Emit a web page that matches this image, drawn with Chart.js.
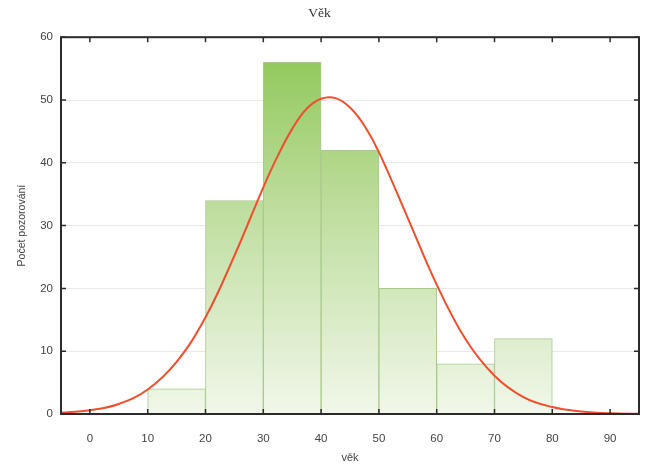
<!DOCTYPE html>
<html>
<head>
<meta charset="utf-8">
<script src="https://cdn.jsdelivr.net/npm/chart.js@4.4.1/dist/chart.umd.min.js"></script>
<style>
html, body { margin: 0; padding: 0; background: #fff; }
#wrap { width: 648px; height: 468px; }
</style>
</head>
<body>
<div id="wrap"><canvas id="chart"></canvas></div>
<script>
// histogram bins (centres) and counts
const binCenters = [15, 25, 35, 45, 55, 65, 75];
const binCounts = [4, 34, 56, 42, 20, 8, 12];

// fitted normal curve
const curveX = [-5, 0, 5, 10, 15, 20, 25, 30, 32.5, 35, 37.5, 40, 42.5, 45, 47.5, 50, 55, 60, 65, 70, 75, 80, 85, 90, 95];
const curveY = [0.2, 0.6, 1.6, 3.9, 8.3, 15.4, 25.2, 36.1, 41.1, 45.4, 48.6, 50.2, 50.3, 48.8, 45.9, 41.7, 31.2, 20.6, 11.9, 6.1, 2.7, 1.1, 0.4, 0.1, 0.03];

const xTicks = [0, 10, 20, 30, 40, 50, 60, 70, 80, 90];
const yTicks = [0, 10, 20, 30, 40, 50, 60];

const labelFont = { family: 'Liberation Sans', size: 11.5 };

// frame round the plot with inward tick marks on all four sides
const framePlugin = {
  id: 'frame',
  afterDraw(chart) {
    const ctx = chart.ctx;
    const a = chart.chartArea;
    const xs = chart.scales.x, ys = chart.scales.y;
    const len = 5;
    ctx.save();
    ctx.strokeStyle = '#2b2b2b';
    ctx.lineWidth = 1.5;
    ctx.beginPath();
    xTicks.forEach(v => {
      const px = xs.getPixelForValue(v);
      ctx.moveTo(px, a.bottom); ctx.lineTo(px, a.bottom - len);
      ctx.moveTo(px, a.top); ctx.lineTo(px, a.top + len);
    });
    yTicks.forEach(v => {
      const py = ys.getPixelForValue(v);
      ctx.moveTo(a.left, py); ctx.lineTo(a.left + len, py);
      ctx.moveTo(a.right, py); ctx.lineTo(a.right - len, py);
    });
    ctx.stroke();
    ctx.lineWidth = 2;
    ctx.strokeRect(a.left, a.top, a.right - a.left, a.bottom - a.top);
    ctx.restore();
  }
};

function barFill(context) {
  const area = context.chart.chartArea;
  if (!area) return '#c5e0a5';
  const g = context.chart.ctx.createLinearGradient(0, area.top, 0, area.bottom);
  g.addColorStop(0, '#8cc653');
  g.addColorStop(0.45, '#bedd9d');
  g.addColorStop(1, '#f1f7ea');
  return g;
}

new Chart(document.getElementById('chart'), {
  type: 'bar',
  data: {
    datasets: [{
      type: 'line',
      data: curveX.map((x, i) => ({ x: x, y: curveY[i] })),
      borderColor: '#f04e2c',
      borderWidth: 2,
      pointRadius: 0,
      tension: 0.4,
      order: 1
    }, {
      type: 'bar',
      data: binCenters.map((x, i) => ({ x: x, y: binCounts[i] })),
      backgroundColor: barFill,
      borderColor: '#a9c98c',
      borderWidth: 1,
      barPercentage: 1,
      categoryPercentage: 1,
      order: 2
    }]
  },
  options: {
    responsive: true,
    maintainAspectRatio: false,
    animation: false,
    layout: { padding: { left: 0, right: 9, top: 0, bottom: 0 } },
    plugins: {
      legend: { display: false },
      tooltip: { enabled: false },
      title: {
        display: true,
        text: 'Věk',
        color: '#333',
        font: { family: 'Liberation Serif', size: 13.5, weight: 'normal' },
        padding: { top: 5, bottom: 16 }
      }
    },
    scales: {
      x: {
        type: 'linear',
        min: -5,
        max: 95,
        offset: false,
        grid: { display: false, offset: false },
        border: { display: false },
        afterBuildTicks: s => { s.ticks = xTicks.map(v => ({ value: v })); },
        afterFit: s => { s.height = 54; },
        ticks: { color: '#444', font: labelFont, padding: 10, maxRotation: 0 },
        title: { display: true, text: 'věk', color: '#444', font: { family: 'Liberation Sans', size: 11 }, padding: { top: 0, bottom: 3 } }
      },
      y: {
        min: 0,
        max: 60,
        grid: { color: '#e9e9e9', lineWidth: 1, drawTicks: false },
        border: { display: false },
        afterBuildTicks: s => { s.ticks = yTicks.map(v => ({ value: v })); },
        afterFit: s => { s.width = 61; },
        ticks: { color: '#444', font: labelFont, padding: 8 },
        title: { display: true, text: 'Počet pozorování', color: '#444', font: { family: 'Liberation Sans', size: 10.5 }, padding: { top: 16, bottom: 0 } }
      }
    }
  },
  plugins: [framePlugin]
});
</script>
</body>
</html>
